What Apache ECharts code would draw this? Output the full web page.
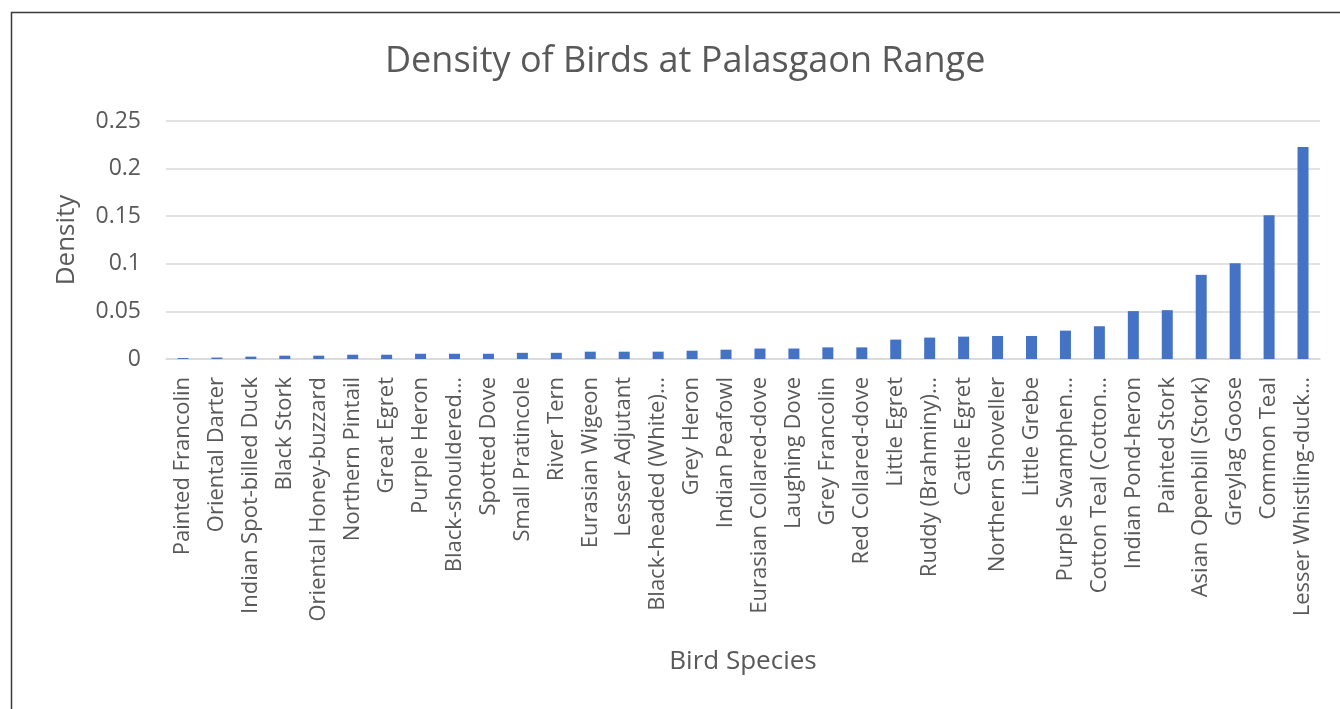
<!DOCTYPE html>
<html>
<head>
<meta charset="utf-8">
<script src="https://cdn.jsdelivr.net/npm/echarts@6/dist/echarts.min.js"></script>
<style>
  html, body { margin: 0; padding: 0; background: #fff; }
  #birdChart { width: 1340px; height: 709px; }
</style>
</head>
<body>
<div id="birdChart"></div>
<script>
const species = [
  'Painted Francolin', 'Oriental Darter', 'Indian Spot-billed Duck', 'Black Stork',
  'Oriental Honey-buzzard', 'Northern Pintail', 'Great Egret', 'Purple Heron',
  'Black-shouldered…', 'Spotted Dove', 'Small Pratincole', 'River Tern',
  'Eurasian Wigeon', 'Lesser Adjutant', 'Black-headed (White)…', 'Grey Heron',
  'Indian Peafowl', 'Eurasian Collared-dove', 'Laughing Dove', 'Grey Francolin',
  'Red Collared-dove', 'Little Egret', 'Ruddy (Brahminy)…', 'Cattle Egret',
  'Northern Shoveller', 'Little Grebe', 'Purple Swamphen…', 'Cotton Teal (Cotton…',
  'Indian Pond-heron', 'Painted Stork', 'Asian Openbill (Stork)', 'Greylag Goose',
  'Common Teal', 'Lesser Whistling-duck…'
];
const density = [
  0.001, 0.0015, 0.0025, 0.0035,
  0.0035, 0.0045, 0.0045, 0.0055,
  0.0055, 0.0055, 0.0065, 0.0065,
  0.0077, 0.0077, 0.0077, 0.0087,
  0.0098, 0.011, 0.011, 0.0122,
  0.0122, 0.0204, 0.0225, 0.0235,
  0.0242, 0.0242, 0.0298, 0.0344,
  0.0503, 0.0513, 0.0884, 0.1007,
  0.151, 0.2228
];
const yTicks = [0, 0.05, 0.1, 0.15, 0.2, 0.25];

(function () {
  const font = '"Open Sans", sans-serif';
  const grey = '#595959';

  const option = {
    backgroundColor: '#fff',
    textStyle: { fontFamily: font },
    title: {
      text: 'Density of Birds at Palasgaon Range',
      left: 380,
      top: 39,
      textStyle: { fontFamily: font, fontSize: 36, fontWeight: 'normal', color: grey }
    },
    graphic: [{
      // chart frame, cropped at right and bottom like the original
      type: 'rect',
      silent: true,
      shape: { x: 11.5, y: 12.5, width: 1400, height: 800 },
      style: { fill: 'none', stroke: '#3a3a3a', lineWidth: 1.5 }
    }],
    grid: { left: 166, right: 20, top: 121, bottom: 350 },
    xAxis: {
      type: 'category',
      data: species,
      name: 'Bird Species',
      nameLocation: 'middle',
      nameGap: 290,
      nameTextStyle: { fontSize: 26, color: grey },
      axisLine: { lineStyle: { color: '#d9d9d9', width: 1.5 } },
      axisTick: { show: false },
      axisLabel: { rotate: 90, interval: 0, fontSize: 22, color: grey, margin: 18 }
    },
    yAxis: {
      type: 'value',
      min: yTicks[0],
      max: yTicks[yTicks.length - 1],
      interval: 0.05,
      name: 'Density',
      nameLocation: 'middle',
      nameGap: 86,
      nameTextStyle: { fontSize: 26, color: grey },
      axisLine: { show: false },
      axisTick: { show: false },
      axisLabel: { fontSize: 23, color: grey, margin: 25 },
      splitLine: { lineStyle: { color: '#d9d9d9', width: 1.5 } }
    },
    series: [{
      type: 'bar',
      data: density,
      barWidth: 11,
      itemStyle: { color: '#4472c4' },
      animation: false
    }]
  };

  const myChart = echarts.init(document.getElementById('birdChart'));
  myChart && myChart.setOption(option);
}());
</script>
</body>
</html>
